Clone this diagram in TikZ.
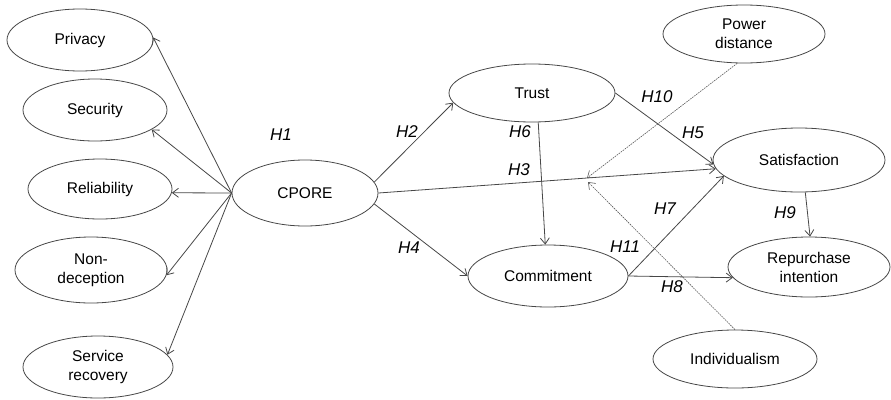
\documentclass[tikz,border=0pt]{standalone}
\usepackage{fontspec}
\setmainfont{Liberation Sans}
\usetikzlibrary{shapes.geometric,arrows.meta}
\begin{document}
\begin{tikzpicture}[x=1pt,y=-1pt,
  ell/.style={ellipse,draw=black!72,line width=0.8pt,inner sep=0pt,align=center,
    font=\fontsize{15.5}{19}\selectfont},
  arr/.style={draw=black!72,line width=0.8pt,-{Straight Barb[length=6pt,width=9pt]}},
  dsh/.style={draw=black!65,line width=0.6pt,dash pattern=on 1.6pt off 0.9pt,-{Straight Barb[length=6pt,width=9pt]}},
  hl/.style={font=\fontsize{17}{20}\selectfont\itshape,inner sep=0pt}]
\useasboundingbox (0,0) rectangle (891,399);
% nodes
\node[ell,minimum width=146pt,minimum height=62pt] (privacy) at (80,40) {Privacy};
\node[ell,minimum width=144pt,minimum height=62pt] (security) at (95,110) {Security};
\node[ell,minimum width=144pt,minimum height=60pt] (reliab) at (100,189) {Reliability};
\node[ell,minimum width=152pt,minimum height=66pt] (nondec) at (91,270) {Non-\\deception};
\node[ell,minimum width=150pt,minimum height=62pt] (servrec) at (98,367) {Service\\recovery};
\node[ell,minimum width=146pt,minimum height=66pt] (cpore) at (305,193) {CPORE};
\node[ell,minimum width=166pt,minimum height=58pt] (trust) at (532,93) {Trust};
\node[ell,minimum width=160pt,minimum height=62pt] (commit) at (548,276) {Commitment};
\node[ell,minimum width=162pt,minimum height=58pt] (power) at (744,34) {Power\\distance};
\node[ell,minimum width=172pt,minimum height=64pt] (satis) at (799,160) {Satisfaction};
\node[ell,minimum width=162pt,minimum height=60pt] (repur) at (809,267) {Repurchase\\intention};
\node[ell,minimum width=164pt,minimum height=58pt] (indiv) at (735,359) {Individualism};
\coordinate (pdend) at (587,178);
\coordinate (indend) at (588,182);
% connectors
\draw[arr] (cpore.west) -- (privacy.2);
\draw[arr] (cpore.west) -- (security.-19);
\draw[arr] (cpore.west) -- (reliab.-3);
\draw[arr] (cpore.west) -- (nondec.-4);
\draw[arr] (cpore.west) -- (servrec.10);
\draw[arr] (cpore.9) -- (trust.187);
\draw[arr] (cpore.east) -- (satis.186);
\draw[arr] (cpore.-9) -- (commit.west);
\draw[arr] (trust.-78) -- (commit.95);
\draw[arr] (trust.east) -- (satis.183);
\draw[arr] (commit.east) -- (satis.192);
\draw[arr] (commit.east) -- (repur.188);
\draw[arr] (satis.-79) -- (repur.88);
\draw[dsh] (power.-103) -- (pdend);
\draw[dsh] (indiv.north) -- (indend);
% labels
\node[hl] (h1) at (281,135) {H1};
\node[hl] (h2) at (407,132) {H2};
\node[hl] (h3) at (519,170) {H3};
\node[hl] (h4) at (409,248) {H4};
\node[hl] (h5) at (693,133) {H5};
\node[hl] (h6) at (520,132) {H6};
\node[hl] (h7) at (665,209) {H7};
\node[hl] (h8) at (672,287) {H8};
\node[hl] (h9) at (785,213) {H9};
\node[hl] (h10) at (657,97) {H10};
\node[hl] (h11) at (625,247) {H11};
\end{tikzpicture}
\end{document}
